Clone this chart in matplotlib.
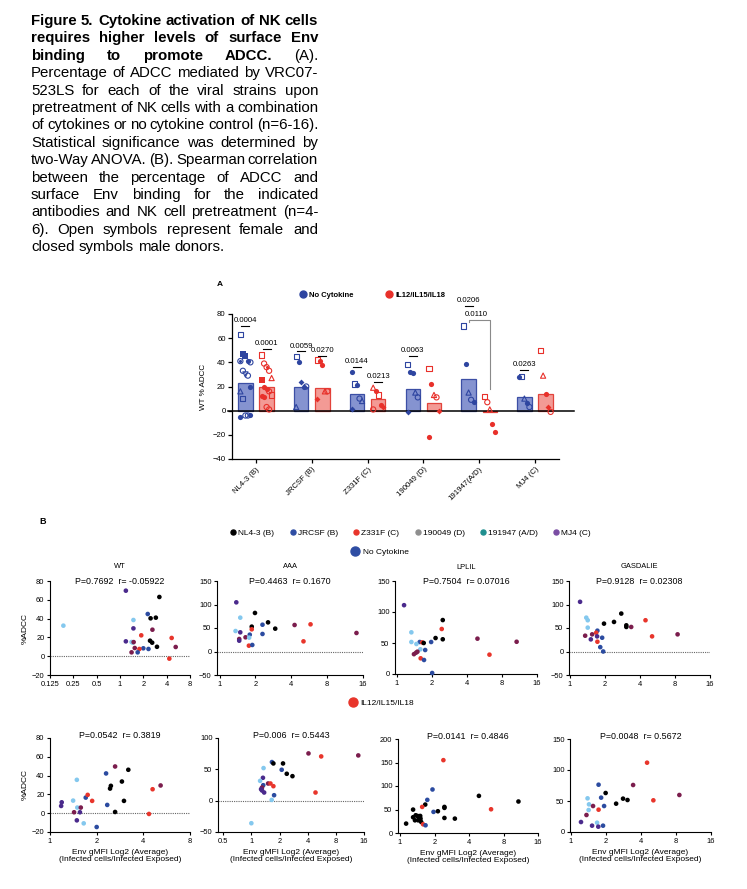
import matplotlib
matplotlib.use('Agg')
import matplotlib.pyplot as plt
import numpy as np
from matplotlib.lines import Line2D
from matplotlib.ticker import FuncFormatter, NullLocator

plt.rcParams['font.family'] = ['Liberation Sans', 'DejaVu Sans']

# ---------------- data ----------------
caption = [
    "Figure 5. Cytokine activation of NK cells",
    "requires higher levels of surface Env",
    "binding to promote ADCC. (A).",
    "Percentage of ADCC mediated by VRC07-",
    "523LS for each of the viral strains upon",
    "pretreatment of NK cells with a combination",
    "of cytokines or no cytokine control (n=6-16).",
    "Statistical significance was determined by",
    "two-Way ANOVA. (B). Spearman correlation",
    "between the percentage of ADCC and",
    "surface Env binding for the indicated",
    "antibodies and NK cell pretreatment (n=4-",
    "6). Open symbols represent female and",
    "closed symbols male donors.",
]

strains = ['NL4-3 (B)', 'JRCSF (B)', 'Z331F (C)', '190049 (D)', '191947(A/D)', 'MJ4 (C)']
mean_nocyt = [23, 20, 13.5, 18, 26, 11.5]
mean_cyt = [20, 19, 10, 6, -1, 14]

# donor values; marker codes: c open circle, C filled circle, s open square,
# S filled square, t open triangle, v open triangle down, D filled diamond, @ dotted circle
pts_nocyt = [
    [63, 47, 45, 41, 40, 41, 33, 30, 29, 20, 16, 10, -4, -4, -4, -5],
    [45, 40, 24, 20, 20, 3],
    [32, 22, 21, 10, 8, 1],
    [38, 32, 31, 15, 11, -1],
    [70, 39, 15, 9, 7],
    [28, 28, 10, 6, 3],
]
mk_nocyt = ['sSSCc@cvcCtsccCC', 'sCDCct', 'CsCctD', 'sCCtcD', 'sCtcC', 'CstCc']
pts_cyt = [
    [46, 39, 36, 33, 27, 25, 20, 18, 16, 13, 12, 11, 3, 1],
    [42, 41, 38, 16, 16, 10],
    [19, 16, 13, 5, 3, 1],
    [35, 22, 13, 11, 0, -22],
    [12, 7, 1, -11, -18],
    [50, 29, 14, 3, -1],
]
mk_cyt = ['sc@ctSCCcsCCcc', 'sCCtcD', 'tCsCDc', 'sCtcDC', 'sctCC', 'stCDc']

p_nocyt = ['0.0004', '0.0059', '0.0144', '0.0063', '0.0206', '0.0263']
p_nocyt_h = [70, 49, 36, 45, 87, 34]
p_cyt = ['0.0001', '0.0270', '0.0213', None, None, None]
p_cyt_h = [51, 45, 24, None, None, None]
p_between = '0.0110'

# panel B
legend_strains = ['NL4-3 (B)', 'JRCSF (B)', 'Z331F (C)', '190049 (D)', '191947 (A/D)', 'MJ4 (C)']
legend_colors = ['#000000', '#2e4da3', '#e8352b', '#8e8e8e', '#1f8f8f', '#7a4da3']
pt_colors = {'k': '#000000', 'b': '#2b4ba0', 'r': '#e8352b', 'l': '#84c8ee', 'm': '#7b1d4d', 'p': '#4a2a8c'}

titles = ['WT', 'AAA', 'LPLIL', 'GASDALIE']
stats_nocyt = ['P=0.7692  r= -0.05922', 'P=0.4463  r= 0.1670', 'P=0.7504  r= 0.07016', 'P=0.9128  r= 0.02308']
stats_cyt = ['P=0.0542  r= 0.3819', 'P=0.006  r= 0.5443', 'P=0.0141  r= 0.4846', 'P=0.0048  r= 0.5672']

wt_x = [0.186, 1.19, 3.22, 2.28, 2.48, 2.9, 1.49, 1.49, 2.62, 1.88, 4.64, 5.23, 1.41, 1.46, 1.19, 1.5, 2.44, 2.6, 3.0, 1.55, 2.0, 2.33, 1.78, 1.69, 1.41, 4.33]
wt_y = [32.5, 69.7, 63, 44.9, 40.3, 41, 38.5, 29.6, 28.2, 22.2, 19.4, 9.8, 15.1, 14.5, 15.8, 15, 16.5, 14.4, 10, 8.7, 8.4, 7.7, 7.7, 4.1, 4.1, -2.6]
wt_c = 'lpkbkklpmrrmllpmkkkmbbrbmr'

aaa_x = [1.38, 1.49, 1.98, 2.55, 2.93, 1.86, 1.86, 2.29, 2.29, 1.36, 1.49, 1.79, 4.26, 5.8, 14.1, 5.06, 1.46, 1.46, 1.65, 1.77, 1.76, 1.88]
aaa_y = [104.6, 72, 82, 62, 48.6, 52.9, 47.2, 57, 37.3, 43.6, 40.8, 35.8, 56.4, 57.8, 39.4, 21.6, 26.6, 23, 30.2, 29.5, 12.4, 13.9]
aaa_c = 'plkkkkrbblpbmrmrmpmlrb'

lplil_x = [1.16, 2.49, 2.44, 1.34, 2.16, 2.49, 4.94, 1.98, 10.7, 1.34, 1.58, 1.66, 1.71, 1.48, 1.76, 1.6, 1.41, 1.47, 1.51, 1.61, 1.72, 6.26, 2.02]
lplil_y = [111, 87, 72.6, 67.2, 58, 56, 57, 51.6, 52, 51.6, 51.6, 51, 50, 48.4, 38.7, 39.8, 32, 34.4, 36, 25.3, 22.6, 31.2, 1.6]
lplil_c = 'pkrlkkmbmlbrklblmmmrbrb'

gas_x = [1.22, 1.38, 1.42, 1.42, 2.76, 2.39, 1.96, 3.05, 3.05, 3.36, 4.46, 5.08, 8.42, 1.72, 1.68, 1.35, 1.55, 1.71, 1.89, 1.51, 1.72, 1.82, 1.93]
gas_y = [105.7, 72, 66.5, 50.8, 80.7, 62.9, 59.3, 55.7, 52.2, 52.2, 66.5, 32.2, 36.5, 44.3, 40, 33.6, 36.5, 32.2, 29.3, 25.8, 20.8, 9.3, 0]
gas_c = 'plllkkkkkmrrmbrmmpbprbb'

wt_cyt_x = [2.63, 3.2, 2.3, 1.49, 2.91, 2.47, 2.44, 4.59, 5.17, 1.7, 1.75, 1.87, 1.41, 3.0, 1.19, 1.18, 2.34, 1.5, 1.58, 2.63, 1.43, 1.56, 4.35, 1.49, 1.65, 2.0]
wt_cyt_y = [49.7, 46.2, 42.3, 35.5, 33.7, 29.1, 26.2, 25.5, 29.5, 16.6, 19.5, 13.1, 13.4, 13.1, 11.6, 7.7, 8.8, 6, 6, 1.3, 1, 1, -0.8, -7.6, -10.8, -14.7]
wt_cyt_c = 'mkblkkkrmbrrlkppblmkmprplb'

aaa_cyt_x = [4.08, 13.9, 5.58, 1.66, 1.72, 2.18, 1.35, 2.11, 2.39, 2.75, 1.33, 1.24, 1.51, 1.6, 1.34, 1.72, 1.3, 1.27, 1.3, 1.37, 1.75, 4.85, 1.65, 1.0]
aaa_cyt_y = [75.4, 72.2, 70.6, 61.6, 59.4, 59.4, 52, 49.3, 42.9, 39.1, 36.5, 31.6, 27.4, 27.4, 24.7, 23.1, 21, 18.3, 16.2, 13, 8.7, 13, 1.2, -36]
aaa_cyt_c = 'mmrbkklbkkplmrbrmpppbrll'

lplil_cyt_x = [2.39, 4.88, 10.8, 1.92, 1.73, 6.23, 1.66, 1.56, 1.3, 1.96, 2.14, 2.44, 2.44, 2.44, 3.01, 1.3, 1.37, 1.42, 1.46, 1.5, 1.35, 1.44, 1.51, 1.53, 1.13, 1.59, 1.67]
lplil_cyt_y = [155, 79, 67, 92.6, 70.5, 50.5, 60.5, 55.5, 49.8, 44.9, 46.3, 55.5, 53.4, 32, 30.6, 33.5, 37.7, 36.3, 32.7, 36.3, 27, 27, 30.6, 23.5, 20, 18.5, 16.4]
lplil_cyt_c = 'rkkbbrkrkbkkkkkkkkkkkkkkkrb'

gas_cyt_x = [4.53, 3.44, 1.74, 2.0, 8.57, 1.83, 2.82, 3.08, 5.13, 1.4, 2.46, 1.44, 1.94, 1.56, 1.43, 1.74, 1.37, 1.23, 1.69, 1.53, 1.9, 1.73]
gas_cyt_y = [111.8, 75.8, 76.3, 62.9, 59.7, 55.4, 53.8, 51.6, 51.1, 54.3, 45.7, 44.6, 41.9, 41.9, 35.5, 36, 27.4, 16.1, 15, 10.2, 10.2, 8.6]
gas_cyt_c = 'rmbkmbkkrlklbmlrmplpbp'

top_data = [(wt_x, wt_y, wt_c), (aaa_x, aaa_y, aaa_c), (lplil_x, lplil_y, lplil_c), (gas_x, gas_y, gas_c)]
bot_data = [(wt_cyt_x, wt_cyt_y, wt_cyt_c), (aaa_cyt_x, aaa_cyt_y, aaa_cyt_c),
            (lplil_cyt_x, lplil_cyt_y, lplil_cyt_c), (gas_cyt_x, gas_cyt_y, gas_cyt_c)]

top_xticks = [[0.125, 0.25, 0.5, 1, 2, 4, 8], [1, 2, 4, 8, 16], [1, 2, 4, 8, 16], [1, 2, 4, 8, 16]]
top_yticks = [[-20, 0, 20, 40, 60, 80], [-50, 0, 50, 100, 150], [0, 50, 100, 150], [-50, 0, 50, 100, 150]]
bot_xticks = [[1, 2, 4, 8], [0.5, 1, 2, 4, 8, 16], [1, 2, 4, 8, 16], [1, 2, 4, 8, 16]]
bot_yticks = [[-20, 0, 20, 40, 60, 80], [-50, 0, 50, 100], [0, 50, 100, 150, 200], [0, 50, 100, 150]]

# ---------------- figure ----------------
W, H = 747, 889
fig = plt.figure(figsize=(W / 100, H / 100), dpi=100)


def box(x0, y0, x1, y1):
    return [x0 / W, 1 - y1 / H, (x1 - x0) / W, (y1 - y0) / H]


# caption, justified
r = fig.canvas.get_renderer()
for i, line in enumerate(caption):
    y = 1 - (21 + i * 17.4) / H
    words = line.split(' ')
    weights = ['bold' if i < 3 else 'normal'] * len(words)
    if i == 2:
        weights[-1] = 'normal'
    texts = [fig.text(0, y, w, fontsize=10.8, weight=wt, va='center') for w, wt in zip(words, weights)]
    widths = [t.get_window_extent(r).width for t in texts]
    if i == len(caption) - 1:
        gap = 4.2
    else:
        gap = (287 - sum(widths)) / (len(words) - 1)
    x = 31
    for t, w in zip(texts, widths):
        t.set_x(x / W)
        x += w + gap

# ---------- panel A ----------
axA = fig.add_axes(box(232, 314, 559, 459))
xg = np.arange(len(strains))
off, bw = 0.19, 0.26
axA.bar(xg - off, mean_nocyt, bw, color='#8593d0', edgecolor='#3c4fa5', lw=0.9, zorder=1)
axA.bar(xg + off, mean_cyt, bw, color='#f39a95', edgecolor='#e2433b', lw=0.9, zorder=1)

markers = {'c': ('o', False), 'C': ('o', True), 's': ('s', False), 'S': ('s', True),
           't': ('^', False), 'v': ('v', False), 'D': ('D', True), '@': ('o', False)}


def draw_points(ax, xc, vals, codes, col):
    for k, (v, code) in enumerate(zip(vals, codes)):
        xx = xc + ((k % 5) - 2) * 0.045
        m, filled = markers[code]
        size = 9 if code == 'D' else 14
        if filled:
            ax.scatter(xx, v, s=size, marker=m, color=col, lw=0, zorder=3)
        else:
            ax.scatter(xx, v, s=size, marker=m, facecolor='none', edgecolor=col, lw=0.8, zorder=3)
            if code == '@':
                ax.scatter(xx, v, s=1.5, color=col, zorder=4)


for i in range(len(strains)):
    draw_points(axA, xg[i] - off, pts_nocyt[i], mk_nocyt[i], '#2e45a0')
    draw_points(axA, xg[i] + off, pts_cyt[i], mk_cyt[i], '#e8302a')
    for p, h, xc in [(p_nocyt[i], p_nocyt_h[i], xg[i] - off), (p_cyt[i], p_cyt_h[i], xg[i] + off)]:
        if p is None:
            continue
        axA.plot([xc - 0.07, xc + 0.07], [h, h], color='k', lw=0.8, clip_on=False)
        axA.text(xc, h + 1.5, p, ha='center', va='bottom', fontsize=5.6, clip_on=False)

axA.plot([4 - off, 4 - off, 4 + off, 4 + off], [73, 75, 75, 18], color='#8a8a8a', lw=0.8, clip_on=False)
axA.text(3.94, 76.5, p_between, ha='center', va='bottom', fontsize=5.6)

axA.plot([-0.5, 5.7], [0, 0], color='k', lw=1.1, zorder=2, clip_on=False)
axA.set_xlim(-0.43, 5.43)
axA.set_ylim(-40, 80)
axA.set_yticks(np.arange(-40, 81, 20))
axA.set_xticks(xg)
axA.set_xticklabels(strains, rotation=45, ha='right', rotation_mode='anchor', fontsize=5.6)
axA.tick_params(axis='y', labelsize=5.6, length=3, width=0.9, pad=1.5)
axA.tick_params(axis='x', length=3, width=0.9, pad=2)
for s in ['top', 'right']:
    axA.spines[s].set_visible(False)
for s in ['left', 'bottom']:
    axA.spines[s].set_linewidth(0.9)
axA.set_ylabel('WT % ADCC', fontsize=5.8, labelpad=4)
fig.text(217 / W, 1 - 285 / H, 'A', fontsize=6, weight='bold', va='center')

hA = [Line2D([], [], ls='none', marker='o', ms=5, color='#2e45a0'),
      Line2D([], [], ls='none', marker='o', ms=5, color='#e8302a')]
fig.legend(hA, ['No Cytokine', 'IL12/IL15/IL18'], loc='center', bbox_to_anchor=(372 / W, 1 - 295 / H),
           ncol=2, frameon=False, prop={'size': 5.5, 'weight': 'bold'}, handletextpad=0.3,
           columnspacing=4.2, handlelength=1)

# ---------- panel B ----------
fig.text(39 / W, 1 - 521 / H, 'B', fontsize=6.5, weight='bold', va='center')
hB = [Line2D([], [], ls='none', marker='o', ms=3.6, color=c) for c in legend_colors]
fig.legend(hB, legend_strains, loc='center', bbox_to_anchor=(410 / W, 1 - 533 / H), ncol=6,
           frameon=False, fontsize=6, handletextpad=0.1, columnspacing=1.7, handlelength=1)
fig.legend([Line2D([], [], ls='none', marker='o', ms=6.5, color='#2e4da3')], ['No Cytokine'],
           loc='center', bbox_to_anchor=(380 / W, 1 - 552 / H), frameon=False, fontsize=6,
           handletextpad=0.4, handlelength=1)
fig.legend([Line2D([], [], ls='none', marker='o', ms=6.5, color='#e8352b')], ['IL12/IL15/IL18'],
           loc='center', bbox_to_anchor=(381 / W, 1 - 703 / H), frameon=False, fontsize=6,
           handletextpad=0.4, handlelength=1)

top_boxes = [(50, 581, 190, 675), (217, 581, 363, 675), (395, 581, 537, 674), (569, 581, 710, 675)]
bot_boxes = [(50, 738, 190, 832), (218, 738, 364, 832), (398, 739, 538, 833), (570, 739, 711, 832)]
top_xlim = [(0.125, 8), (0.95, 16), (0.97, 16), (0.98, 16)]
bot_xlim = [(1, 8), (0.44, 16), (0.96, 16), (0.99, 16)]


def scatter_panel(bx, data, xt, yt, xl, stat, stat_y):
    ax = fig.add_axes(box(*bx))
    xs, ys, cs = data
    ax.scatter(xs, ys, s=11, c=[pt_colors[c] for c in cs], lw=0, zorder=3, clip_on=False)
    ax.set_xscale('log', base=2)
    ax.set_xlim(*xl)
    ax.set_ylim(yt[0], yt[-1])
    ax.set_xticks(xt)
    ax.set_yticks(yt)
    ax.xaxis.set_minor_locator(NullLocator())
    ax.xaxis.set_major_formatter(FuncFormatter(lambda v, p: '%g' % v))
    if yt[0] < 0:
        ax.axhline(0, color='#666666', lw=0.8, ls=(0, (1, 1)), zorder=1)
    for s in ['top', 'right']:
        ax.spines[s].set_visible(False)
    for s in ['left', 'bottom']:
        ax.spines[s].set_linewidth(0.8)
    ax.tick_params(labelsize=5.4, length=2.5, width=0.8, pad=1.5)
    ax.text(0.5, stat_y, stat, transform=ax.transAxes, ha='center', va='center', fontsize=6.4)
    return ax


for i in range(4):
    ax = scatter_panel(top_boxes[i], top_data[i], top_xticks[i], top_yticks[i], top_xlim[i], stats_nocyt[i], 1.0)
    ax.text(0.5, 1.15, titles[i], transform=ax.transAxes, ha='center', va='center', fontsize=5.4)
    if i == 0:
        ax.set_ylabel('%ADCC', fontsize=6, labelpad=2)
    ax = scatter_panel(bot_boxes[i], bot_data[i], bot_xticks[i], bot_yticks[i], bot_xlim[i], stats_cyt[i], 1.03)
    ax.set_xlabel('Env gMFI Log2 (Average)\n(Infected cells/Infected Exposed)', fontsize=6, labelpad=3,
                  linespacing=1.1)
    if i == 0:
        ax.set_ylabel('%ADCC', fontsize=6, labelpad=2)

fig.savefig('out.png', dpi=100, facecolor='white')
